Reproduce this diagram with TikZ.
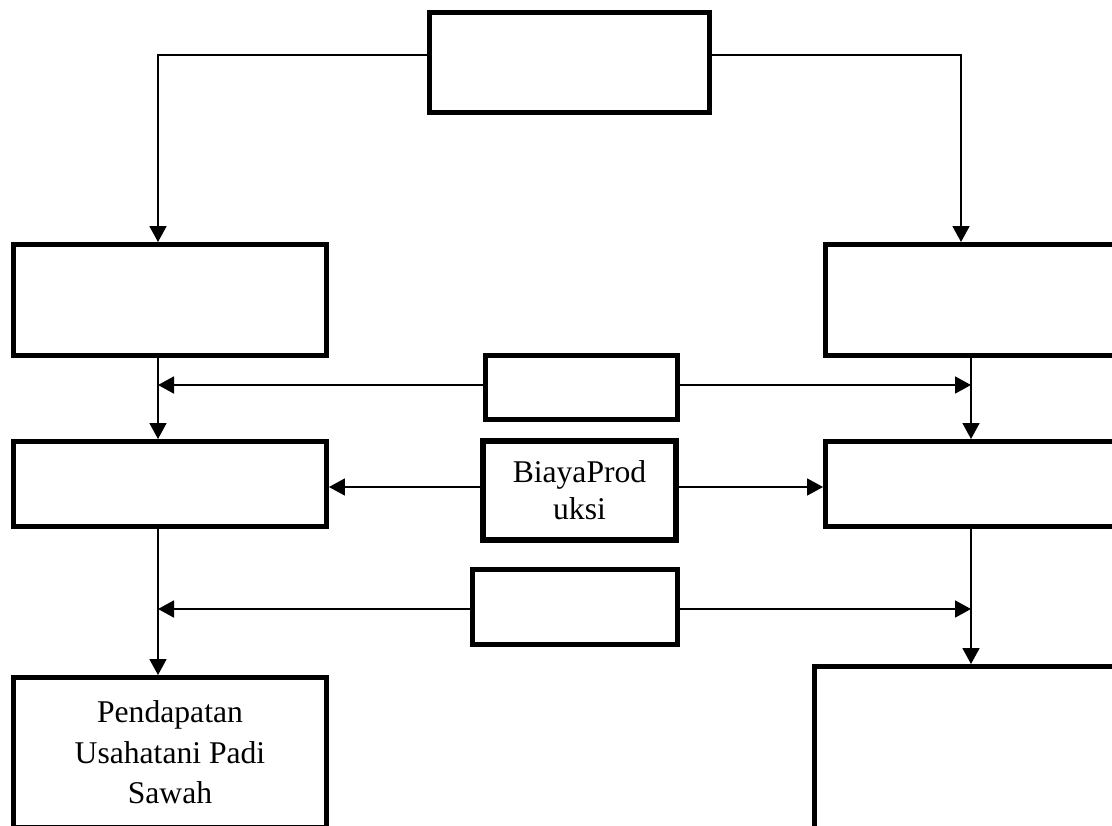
\documentclass[tikz,border=0pt]{standalone}
\usepackage{fontspec}
\setmainfont{Liberation Serif}
\usetikzlibrary{arrows.meta,calc,positioning}

\begin{document}
\begin{tikzpicture}[x=0.02cm, y=-0.02cm,
  box/.style={draw, line width=0.1cm, minimum width=6.26cm, align=center,
              inner sep=0pt, font=\fontsize{18pt}{21pt}\selectfont},
  arr/.style={-{Triangle[length=0.32cm,width=0.34cm]}, line width=1pt}]

\useasboundingbox (0,0) rectangle (1112,825);
\clip (0,0) rectangle (1112,825);

\node[box, minimum width=5.6cm, minimum height=2cm] (top) at (569.5,62.5) {};

\node[box, minimum height=2.22cm] (left1) at (170,300) {};
\node[box, minimum height=1.7cm]  (left2) at (170,484) {};
\node[box, minimum height=3.0cm,
      font=\fontsize{18pt}{23pt}\selectfont] (hasil) at (170,752.5) {Pendapatan\\Usahatani Padi\\Sawah};

\node[box, minimum height=2.22cm] (right1) at (982,300) {};
\node[box, minimum height=1.7cm]  (right2) at (982,484) {};
\node[box, minimum height=3.6cm]  (right3) at (971,756.5) {};

\node[box, minimum width=3.84cm, minimum height=1.28cm] (mid1) at (581.5,387.5) {};
\node[box, line width=0.12cm, minimum width=3.86cm, minimum height=1.98cm] (biaya) at (579.5,490.5) {BiayaProd\\uksi};
\node[box, minimum width=4.1cm, minimum height=1.5cm] (mid2) at (575,607) {};

\coordinate (lv1) at ([xshift=-0.24cm]left1.south);
\coordinate (lv2) at ([xshift=-0.24cm]left2.south);
\coordinate (rv1) at ([xshift=-0.22cm]right1.south);
\coordinate (rv2) at ([xshift=-0.22cm]right2.south);

\draw[arr] ([yshift=0.15cm]top.west) -| ([xshift=-0.24cm]left1.north);
\draw[arr] ([yshift=0.15cm]top.east) -| ([xshift=-0.42cm]right1.north);

\draw[arr] (lv1) -- ([xshift=-0.24cm]left2.north);
\draw[arr] (lv2) -- ([xshift=-0.24cm]hasil.north);
\draw[arr] (rv1) -- ([xshift=-0.22cm]right2.north);
\draw[arr] (rv2) -- (right3.north);

\draw[arr] ([yshift=0.05cm]mid1.west) -- ([yshift=0.05cm]mid1.west -| lv1);
\draw[arr] ([yshift=0.05cm]mid1.east) -- ([yshift=0.05cm]mid1.east -| rv1);
\draw[arr] ([yshift=0.07cm]biaya.west) -- ([yshift=0.07cm]biaya.west -| left2.east);
\draw[arr] ([yshift=0.07cm]biaya.east) -- ([yshift=0.07cm]biaya.east -| right2.west);
\draw[arr] ([yshift=-0.04cm]mid2.west) -- ([yshift=-0.04cm]mid2.west -| lv2);
\draw[arr] ([yshift=-0.04cm]mid2.east) -- ([yshift=-0.04cm]mid2.east -| rv2);
\end{tikzpicture}
\end{document}
